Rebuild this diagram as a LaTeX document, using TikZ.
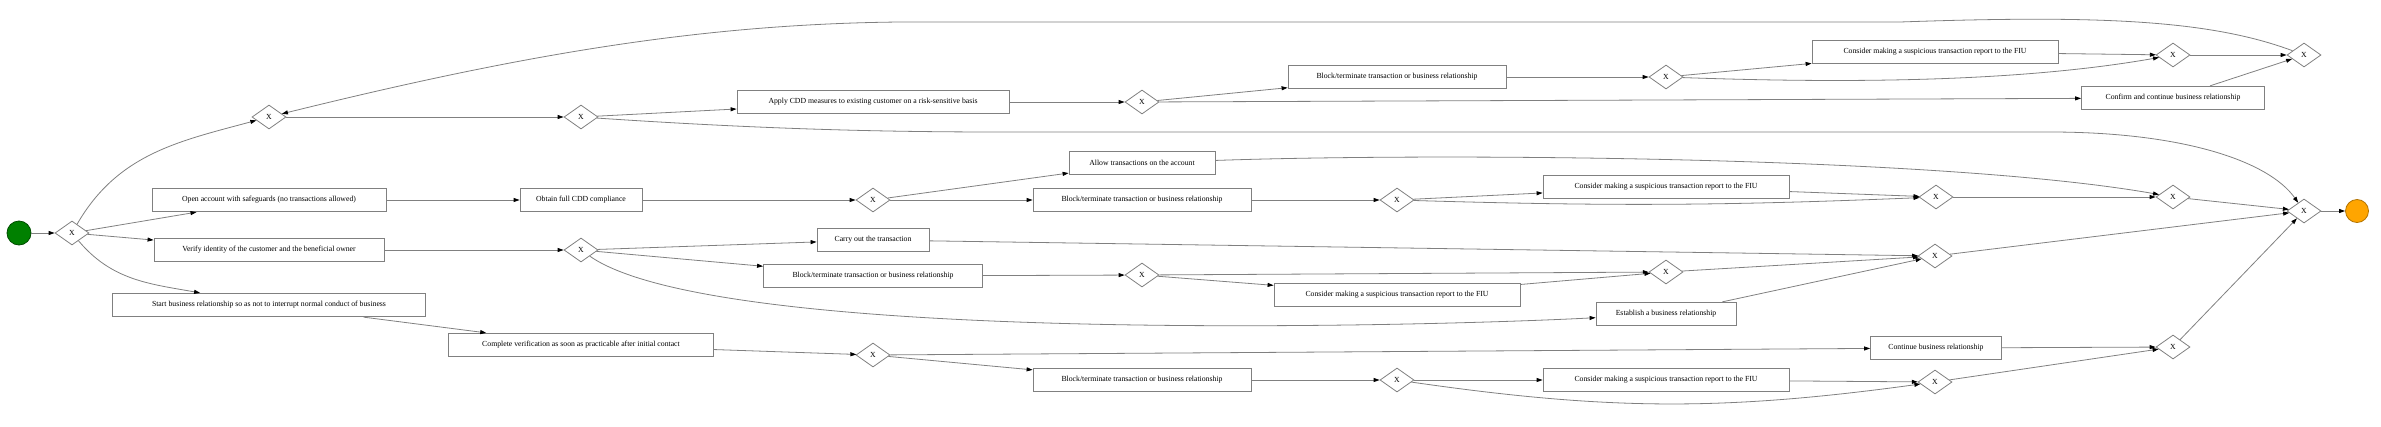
\documentclass[tikz,border=0pt]{standalone}
\usepackage{fontspec}
\setmainfont{Liberation Serif}
\usetikzlibrary{arrows.meta,shapes.geometric}

\definecolor{linegray}{HTML}{808080}
\definecolor{startgreen}{HTML}{008000}
\definecolor{endorange}{HTML}{FFA500}

\begin{document}
\begin{tikzpicture}[x=1pt,y=1pt,thick,>={Triangle[length=6pt,width=4pt,black]},
    font=\fontsize{7.75}{9}\selectfont,
    task/.style={draw=linegray,rectangle,minimum height=23.5pt,inner sep=0pt},
    gate/.style={draw=linegray,diamond,minimum width=34pt,minimum height=24pt,inner sep=0pt},
    event/.style={circle,minimum size=24pt,inner sep=0pt},
    pre/.style={<-,draw=linegray},
    post/.style={->,draw=linegray}]

\useasboundingbox (0,0) rectangle (2381,-426);

\node [event, fill=startgreen, draw=startgreen!60!black] (start) at (19,-233) {};
\node [gate] (x1) at (72,-233) {X}
    edge [pre] (start);

% review branch
\node [gate] (xloop) at (269,-117) {X}
    edge [pre, out=195, in=60] (x1);
\node [gate] (x2) at (581,-117) {X}
    edge [pre] (xloop);
\node [task, minimum width=272pt] (apply) at (873,-102) {Apply CDD measures to existing customer on a risk-sensitive basis}
    edge [pre] (x2);
\node [gate] (x6) at (1142,-102) {X}
    edge [pre] (apply);
\node [task, minimum width=218pt] (blk1) at (1397,-77) {Block/terminate transaction or business relationship}
    edge [pre] (x6);
\node [gate] (x10) at (1666,-77) {X}
    edge [pre] (blk1);
\node [task, minimum width=246pt] (str1) at (1935,-52) {Consider making a suspicious transaction report to the FIU}
    edge [pre] (x10);
\node [gate] (x12) at (2173,-55) {X}
    edge [pre] (str1)
    edge [pre, out=190, in=-2, looseness=0.8] (x10);
\node [task, minimum width=183pt] (confirm) at (2173,-98) {Confirm and continue business relationship}
    edge [pre] (x6);
\node [gate] (x13) at (2304,-55) {X}
    edge [pre] (x12)
    edge [pre] (confirm);

% safeguards branch
\node [task, minimum width=234pt] (open) at (269,-200) {Open account with safeguards (no transactions allowed)}
    edge [pre] (x1);
\node [task, minimum width=122pt] (obtain) at (581,-200) {Obtain full CDD compliance}
    edge [pre] (open);
\node [gate] (x3) at (873,-200) {X}
    edge [pre] (obtain);
\node [task, minimum width=146pt] (allow) at (1142,-163) {Allow transactions on the account}
    edge [pre] (x3);
\node [task, minimum width=218pt] (blk2) at (1142,-200) {Block/terminate transaction or business relationship}
    edge [pre] (x3);
\node [gate] (x7) at (1397,-200) {X}
    edge [pre] (blk2);
\node [task, minimum width=246pt] (str2) at (1666,-187) {Consider making a suspicious transaction report to the FIU}
    edge [pre] (x7);
\node [gate] (x15) at (1936,-197) {X}
    edge [pre] (str2)
    edge [pre, bend left=2] (x7);
\node [gate] (x14) at (2173,-197) {X}
    edge [pre] (x15)
    edge [pre, out=170, in=2, looseness=0.6] (allow);

% verification branch
\node [task, minimum width=230pt] (verify) at (269,-250) {Verify identity of the customer and the beneficial owner}
    edge [pre] (x1);
\node [gate] (x4) at (581,-250) {X}
    edge [pre] (verify);
\node [task, minimum width=112pt] (carry) at (873,-240) {Carry out the transaction}
    edge [pre] (x4);
\node [task, minimum width=219pt] (blk3) at (873,-276) {Block/terminate transaction or business relationship}
    edge [pre] (x4);
\node [gate] (x8) at (1142,-275) {X}
    edge [pre] (blk3);
\node [task, minimum width=246pt] (str3) at (1397,-295) {Consider making a suspicious transaction report to the FIU}
    edge [pre] (x8);
\node [gate] (x11) at (1666,-272) {X}
    edge [pre] (x8)
    edge [pre] (str3);
\node [task, minimum width=140pt] (establish) at (1666,-314) {Establish a business relationship}
    edge [pre, out=183, in=-35, looseness=0.4] (x4);
\node [gate] (x16) at (1935,-256) {X}
    edge [pre] (carry)
    edge [pre] (x11)
    edge [pre] (establish);

% delayed verification branch
\node [task, minimum width=313pt] (startbr) at (269,-305) {Start business relationship so as not to interrupt normal conduct of business}
    edge [pre, out=170, in=-50] (x1);
\node [task, minimum width=265pt] (complete) at (581,-345) {Complete verification as soon as practicable after initial contact}
    edge [pre] (startbr);
\node [gate] (x5) at (873,-355) {X}
    edge [pre] (complete);
\node [task, minimum width=131pt] (continue) at (1936,-348) {Continue business relationship}
    edge [pre] (x5);
\node [task, minimum width=218pt] (blk4) at (1142,-380) {Block/terminate transaction or business relationship}
    edge [pre] (x5);
\node [gate] (x9) at (1397,-380) {X}
    edge [pre] (blk4);
\node [task, minimum width=246pt] (str4) at (1666,-380) {Consider making a suspicious transaction report to the FIU}
    edge [pre] (x9);
\node [gate] (x18) at (1935,-382) {X}
    edge [pre] (str4)
    edge [pre, bend left=8] (x9);
\node [gate] (x17) at (2173,-347) {X}
    edge [pre] (continue)
    edge [pre] (x18);

% exit
\node [gate] (xend) at (2304,-211) {X}
    edge [pre] (x14)
    edge [pre] (x16)
    edge [pre] (x17);
\node [event, minimum size=23pt, fill=endorange, draw=endorange!70!black] (stop) at (2357,-211) {}
    edge [pre] (xend);

% long connectors
\draw [post] (x2) .. controls (760,-129) and (880,-132) .. (1000,-132)
    -- (2050,-132) .. controls (2180,-132) and (2268,-160) .. (xend);
\draw [post] (x13) .. controls (2210,-20) and (2100,-15) .. (1900,-22)
    -- (900,-22) .. controls (700,-24) and (520,-55) .. (xloop);

\end{tikzpicture}
\end{document}
